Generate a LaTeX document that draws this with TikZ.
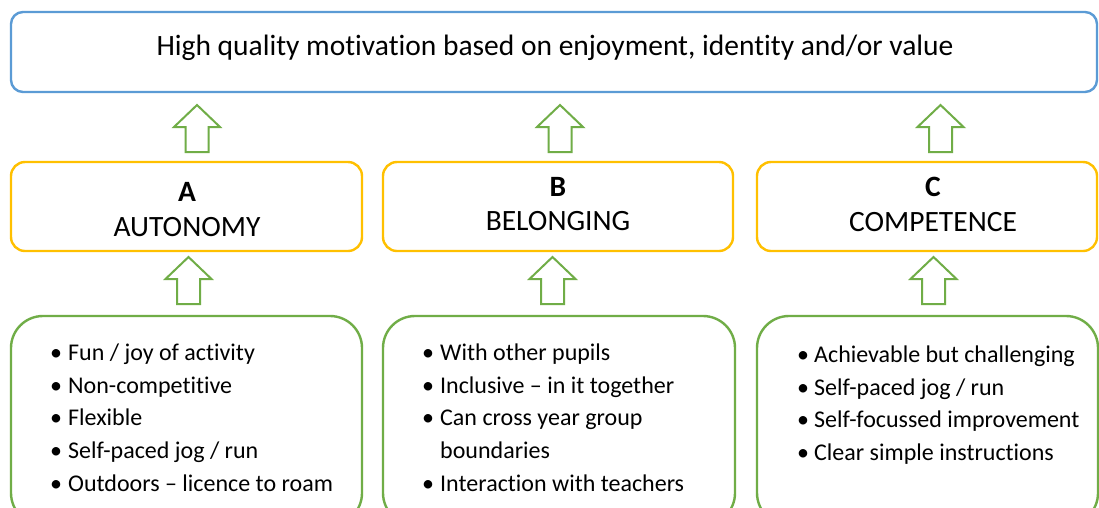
\documentclass[tikz,border=0pt]{standalone}
\usepackage{fontspec}
\setmainfont{Carlito}[Ligatures=NoCommon]
\definecolor{goalblue}{HTML}{5B9BD5}
\definecolor{needgold}{HTML}{FFC000}
\definecolor{leafgreen}{HTML}{70AD47}
\tikzset{
  goalbox/.style={draw=goalblue, line width=2.4pt, rounded corners=12pt, fill=white},
  needbox/.style={draw=needgold, line width=2.4pt, rounded corners=14pt, fill=white},
  factbox/.style={draw=leafgreen, line width=2.4pt, rounded corners=32pt, fill=white},
  bigtext/.style={inner sep=0pt, font=\fontsize{29.5}{34}\selectfont},
  bigletter/.style={inner sep=0pt, font=\fontsize{29.5}{34}\selectfont\bfseries},
  itemtext/.style={inner sep=0pt, anchor=base west, font=\fontsize{24}{28}\selectfont},
  uparrow/.pic={
    \draw[leafgreen, line width=2pt, line join=miter, fill=white]
      (0,0) -- (23,22) -- (11.5,22) -- (11.5,47) -- (-11.5,47) -- (-11.5,22) -- (-23,22) -- cycle;
  }
}
\newcommand{\bul}[1]{\makebox[#1][l]{\textbullet}}
\begin{document}
\begin{tikzpicture}[x=1pt, y=-1pt]
\useasboundingbox (0,0) rectangle (1099,507);
\fill[white] (0,0) rectangle (1099,507);

% goal box
\draw[goalbox] (11,12) rectangle (1097,92);
\node[bigtext] (goal) at (555,48) {High quality motivation based on enjoyment, identity and/or value};

% arrows into the goal box
\pic at (197,105) {uparrow};
\pic at (560,105) {uparrow};
\pic at (940.5,105) {uparrow};

% the three needs
\draw[needbox] (11,162) rectangle (362,251);
\draw[needbox] (383,162) rectangle (733,251);
\draw[needbox] (757,162) rectangle (1097,251);
\node[bigletter] (la) at (187,192) {A};
\node[bigtext] (na) at (187,227) {AUTONOMY};
\node[bigletter] (lb) at (558,187) {B};
\node[bigtext] (nb) at (558,221) {BELONGING};
\node[bigletter] (lc) at (933,187) {C};
\node[bigtext] (nc) at (933,222) {COMPETENCE};

% arrows into the needs
\pic at (188.5,257) {uparrow};
\pic at (552.5,257) {uparrow};
\pic at (933.5,257) {uparrow};

% supporting factors (they run on below the lower edge)
\draw[factbox] (11,316) rectangle (362,525);
\draw[factbox] (383,316) rectangle (735,525);
\draw[factbox] (757,316) rectangle (1098,525);

\node[itemtext] (a1) at (50,360.5) {\bul{18pt}Fun / joy of activity};
\node[itemtext] (a2) at (50,393.2) {\bul{18pt}Non-competitive};
\node[itemtext] (a3) at (50,425.9) {\bul{18pt}Flexible};
\node[itemtext] (a4) at (50,458.6) {\bul{18pt}Self-paced jog / run};
\node[itemtext] (a5) at (50,491.3) {\bul{18pt}Outdoors – licence to roam};

\node[itemtext] (b1) at (422,360.5) {\bul{18pt}With other pupils};
\node[itemtext] (b2) at (422,393.2) {\bul{18pt}Inclusive – in it together};
\node[itemtext] (b3) at (422,425.9) {\bul{18pt}Can cross year group};
\node[itemtext] (b4) at (440,458.6) {boundaries};
\node[itemtext] (b5) at (422,491.3) {\bul{18pt}Interaction with teachers};

\node[itemtext] (c1) at (797,362.5) {\bul{17pt}Achievable but challenging};
\node[itemtext] (c2) at (797,395.2) {\bul{17pt}Self-paced jog / run};
\node[itemtext] (c3) at (797,427.9) {\bul{17pt}Self-focussed improvement};
\node[itemtext] (c4) at (797,460.6) {\bul{17pt}Clear simple instructions};
\end{tikzpicture}
\end{document}
